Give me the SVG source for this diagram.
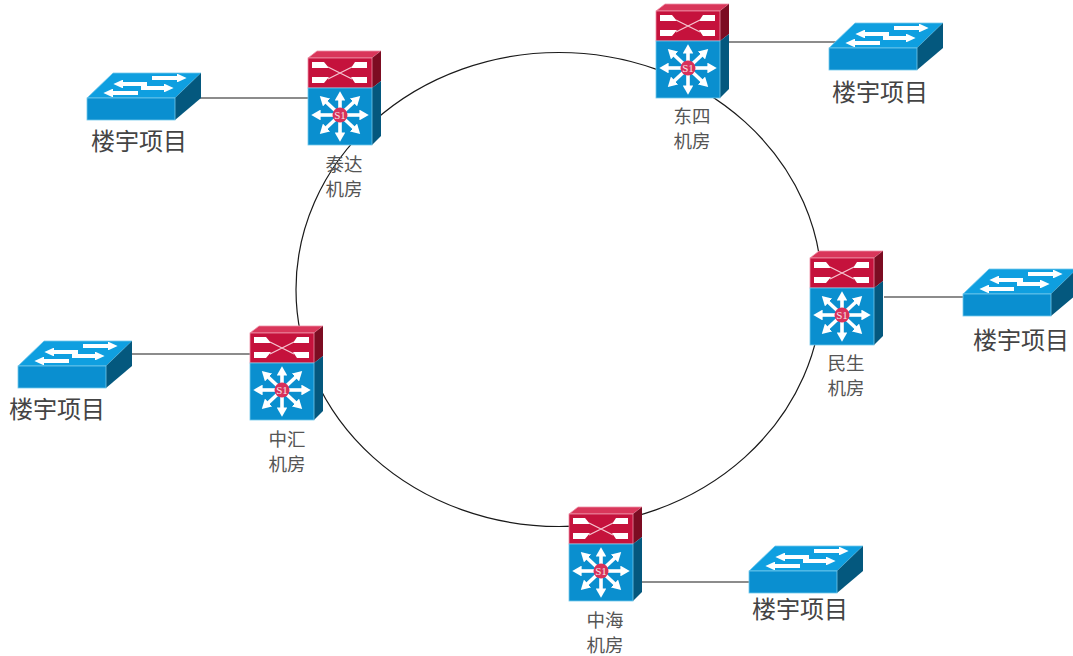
<svg xmlns="http://www.w3.org/2000/svg" width="1073" height="656" viewBox="0 0 1073 656">
<style>
.lnk{fill:none;stroke:#1a1a1a;stroke-width:1.2}
.lab{font-family:"Noto Sans CJK SC","Liberation Sans",sans-serif;font-size:18.5px;fill:#555;text-anchor:middle}
.sw{font-family:"Noto Sans CJK SC","Liberation Sans",sans-serif;font-size:24px;fill:#444;text-anchor:middle}
.ra{stroke:#fff;stroke-width:3.6;fill:none;marker-end:url(#h)}
.sa{stroke:#fff;stroke-width:4;fill:none;marker-end:url(#h2)}
.edge{stroke:#72c8ec;stroke-width:.8}
.redge{stroke:#ee8fa6;stroke-width:.8}
</style>
<defs>
<marker id="h" markerWidth="2.6" markerHeight="3" refX="1" refY="1.5" orient="auto"><path d="M0 0L2.6 1.5L0 3Z" fill="#fff"/></marker>
<marker id="h2" markerWidth="2.4" markerHeight="2.2" refX="1" refY="1.1" orient="auto"><path d="M0 0L2.4 1.1L0 2.2Z" fill="#fff"/></marker>
<g id="router">
<path class="redge" d="M9 0H73L64 7H0Z" fill="#d9365a"/>
<path d="M64 7L73 0V30L64 37Z" fill="#7c0c22"/>
<rect class="redge" x="0" y="7" width="64" height="30" fill="#c5123c"/>
<path d="M64 37L73 30V85L64 94Z" fill="#04587e"/>
<rect class="edge" x="0" y="37" width="64" height="57" fill="#0a8fcf"/>
<g fill="#fff">
<path d="M4 11H16L21 17H4ZM4 32H16L21 26H4Z"/>
<path d="M59 11H47L43 17H59ZM59 32H47L43 26H59Z"/>
</g>
<path d="M20 16L44 28M20 28L44 16" stroke="#f6c6d2" stroke-width="1.3"/>
<path class="ra" d="M32 64V46"/><path class="ra" d="M32 64V85"/>
<path class="ra" d="M32 64H9"/><path class="ra" d="M32 64H55"/>
<path class="ra" d="M32 64L16 49"/><path class="ra" d="M32 64L48 49"/>
<path class="ra" d="M32 64L16 79"/><path class="ra" d="M32 64L48 79"/>
<circle cx="32" cy="64" r="7.5" fill="#d8315a"/>
<text x="32" y="68" font-family="Liberation Serif,serif" font-size="11" fill="#f4e4e8" text-anchor="middle">S1</text>
</g>
<g id="switch">
<path class="edge" d="M26 0H114L88 25H0Z" fill="#0f9fe0"/>
<path d="M88 25L114 0V25L88 47Z" fill="#04587e"/>
<rect class="edge" x="0" y="25" width="88" height="22" fill="#0a8fd0"/>
<path class="sa" d="M60 11H32"/>
<path class="sa" d="M65 5H94"/>
<path class="sa" d="M51 20H22"/>
<path class="sa" d="M54 15H81"/>
</g>
</defs>
<rect width="1073" height="656" fill="#fff"/>
<g id="connectors">
<ellipse class="lnk" cx="559" cy="289.5" rx="263" ry="237"/>
<path class="lnk" d="M190 98H308"/>
<path class="lnk" d="M729 42H838"/>
<path class="lnk" d="M884 297H970"/>
<path class="lnk" d="M125 354H250"/>
<path class="lnk" d="M641 582H755"/>
</g>
<g id="node-taida"><use href="#router" x="308" y="51"/><text class="lab" x="344" y="171">泰达</text><text class="lab" x="344" y="196">机房</text></g>
<g id="node-dongsi"><use href="#router" x="656" y="4"/><text class="lab" x="692" y="123">东四</text><text class="lab" x="692" y="148">机房</text></g>
<g id="node-minsheng"><use href="#router" x="810" y="251"/><text class="lab" x="846" y="370">民生</text><text class="lab" x="846" y="395">机房</text></g>
<g id="node-zhonghui"><use href="#router" x="250" y="326"/><text class="lab" x="287" y="446">中汇</text><text class="lab" x="287" y="471">机房</text></g>
<g id="node-zhonghai"><use href="#router" x="569" y="507"/><text class="lab" x="605" y="627">中海</text><text class="lab" x="605" y="652">机房</text></g>
<g id="sw-taida"><use href="#switch" x="87" y="73"/><text class="sw" x="139" y="150">楼宇项目</text></g>
<g id="sw-dongsi"><use href="#switch" x="829" y="23"/><text class="sw" x="880" y="101">楼宇项目</text></g>
<g id="sw-minsheng"><use href="#switch" x="963" y="269"/><text class="sw" x="1021" y="349">楼宇项目</text></g>
<g id="sw-zhonghui"><use href="#switch" x="18" y="341"/><text class="sw" x="57" y="418">楼宇项目</text></g>
<g id="sw-zhonghai"><use href="#switch" x="749" y="546"/><text class="sw" x="800" y="618">楼宇项目</text></g>
</svg>
